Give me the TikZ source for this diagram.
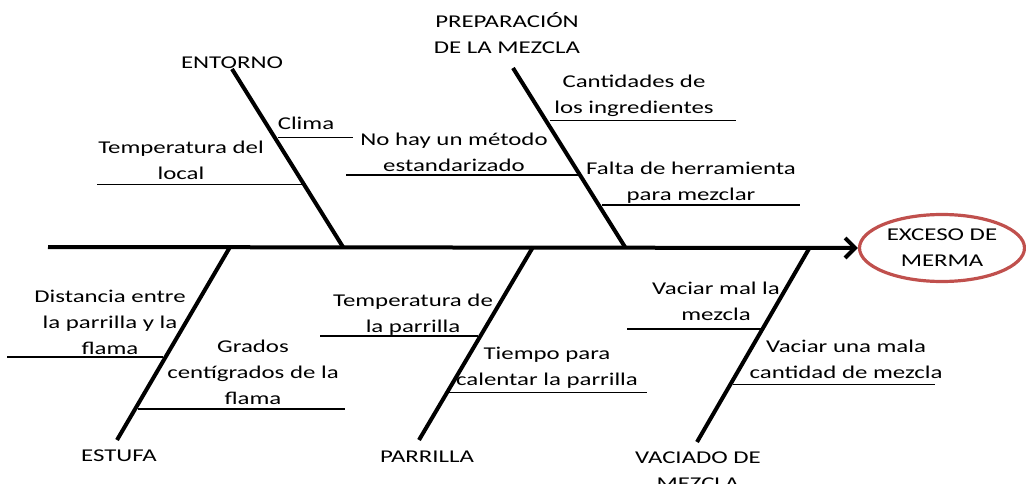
\documentclass[tikz,border=0pt]{standalone}
\usepackage{fontspec}
\setmainfont{Carlito}[FakeStretch=1.38]
\usetikzlibrary{arrows.meta,shapes.geometric}
\definecolor{effred}{RGB}{192,80,77}
\begin{document}
\begin{tikzpicture}[x=1pt,y=-1pt,
  lbl/.style={font=\fontsize{18}{26}\selectfont, align=center, inner sep=0pt, yshift=-3pt,
    execute at begin node=\strut, execute at end node=\strut},
  bone/.style={line width=4pt},
  spine/.style={line width=4pt, -{Straight Barb[length=10pt,width=20pt]}},
  subline/.style={line width=1.3pt},
  effect/.style={ellipse, draw=effred, line width=3.2pt, minimum width=165pt,
    minimum height=67pt, inner sep=0pt, font=\fontsize{18}{26}\selectfont, align=center}]
\useasboundingbox (0,0) rectangle (1026,484);

% effect
\node[effect] (eff) at (942,248) {EXCESO DE\\MERMA};
\coordinate (tail) at (48,247);
\draw[spine] (tail) -- (eff.west);

% bone coordinates
\coordinate (e1) at (343,247);  \coordinate (e2) at (232,69);
\coordinate (p1) at (625,247);  \coordinate (p2) at (513,68);
\coordinate (s1) at (230,247);  \coordinate (s2) at (117,440);
\coordinate (r1) at (533,247);  \coordinate (r2) at (419,440);
\coordinate (v1) at (810,247);  \coordinate (v2) at (697,442);
\draw[bone] (e1) -- (e2);
\draw[bone] (p1) -- (p2);
\draw[bone] (s1) -- (s2);
\draw[bone] (r1) -- (r2);
\draw[bone] (v1) -- (v2);

% bone labels
\node[lbl] (entorno) at (232,60.5) {ENTORNO};
\node[lbl] (prep) at (507,34.3) {PREPARACIÓN\\DE LA MEZCLA};
\node[lbl] (estufa) at (119,453) {ESTUFA};
\node[lbl] (parrilla) at (427,454) {PARRILLA};
\node[lbl] (vaciado) at (698,472) {VACIADO DE\\MEZCLA};

% sub-cause lines
\coordinate (c1a) at (278,137.3); \coordinate (c1b) at (353,137.3);
\coordinate (c2a) at (302,184.3); \coordinate (c2b) at (97,184.3);
\coordinate (c3a) at (550,120.7); \coordinate (c3b) at (736,120.7);
\coordinate (c4a) at (579,175);   \coordinate (c4b) at (346,175);
\coordinate (c5a) at (602,205);   \coordinate (c5b) at (800,205);
\coordinate (c6a) at (163,357);   \coordinate (c6b) at (7,357);
\coordinate (c7a) at (138,409);   \coordinate (c7b) at (345,409);
\coordinate (c8a) at (478,336);   \coordinate (c8b) at (320,336);
\coordinate (c9a) at (449,392.3); \coordinate (c9b) at (647,392.3);
\coordinate (c10a) at (761,329);  \coordinate (c10b) at (627,329);
\coordinate (c11a) at (733,384.3);\coordinate (c11b) at (935,384.3);
\foreach \i in {1,...,11} \draw[subline] (c\i a) -- (c\i b);

% sub-cause texts
\node[lbl] (clima) at (306,121.8) {Clima};
\node[lbl] (templocal) at (181,160.8) {Temperatura del\\local};
\node[lbl] (cant) at (634,95.6) {Cantidades de\\los ingredientes};
\node[lbl] (metodo) at (454,153.5) {No hay un método\\estandarizado};
\node[lbl] (falta) at (691,181.8) {Falta de herramienta\\para mezclar};
\node[lbl] (dist) at (110,323.6) {Distancia entre\\la parrilla y la\\flama};
\node[lbl] (grados) at (253,373.6) {Grados\\centígrados de la\\flama};
\node[lbl] (tempparr) at (413,314.3) {Temperatura de\\la parrilla};
\node[lbl] (tiempo) at (547,367.3) {Tiempo para\\calentar la parrilla};
\node[lbl] (vmal) at (716,302.6) {Vaciar mal la\\mezcla};
\node[lbl] (vuna) at (846,360.6) {Vaciar una mala\\cantidad de mezcla};
\end{tikzpicture}
\end{document}
